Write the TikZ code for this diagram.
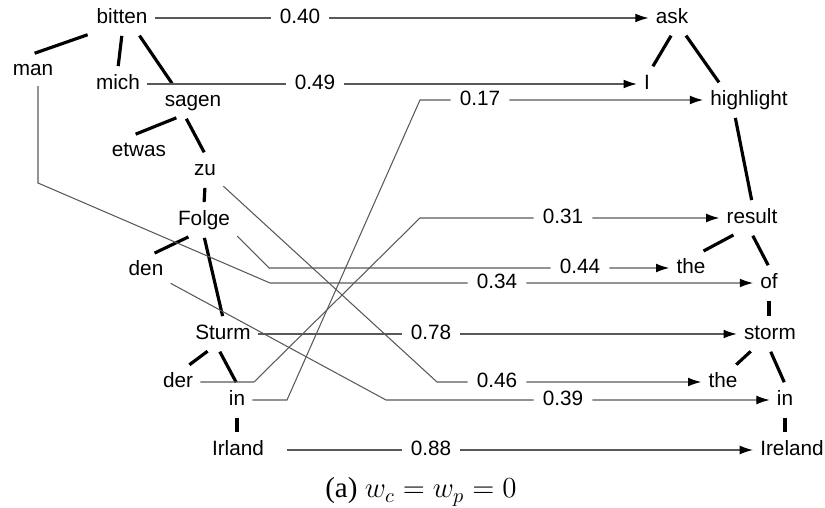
\documentclass[tikz,border=0pt]{standalone}
\usepackage{fix-cm}
\usepackage{fontspec}
\setmainfont{Liberation Serif}
\setsansfont{Liberation Sans}
\usetikzlibrary{arrows.meta}

\begin{document}
\begin{tikzpicture}[
    word/.style={inner sep=4pt, font=\sffamily\fontsize{11.8}{14}\selectfont, text height=8pt, text depth=2pt},
    wt/.style={word, inner sep=5pt},
    tree/.style={line width=1.8pt, shorten <=1pt, shorten >=1pt},
    link/.style={black!65, line width=0.6pt, -{Latex[black, length=7.5pt, width=5pt]}}
]
    \useasboundingbox (0,0) rectangle (16.5,10.16);

    % source tree
    \node[word] (bitten) at (2.44,9.80) {bitten};
    \node[word] (man) at (0.66,8.76) {man};
    \node[word] (mich) at (2.36,8.48) {mich};
    \node[word] (sagen) at (3.86,8.14) {sagen};
    \node[word] (etwas) at (2.78,7.14) {etwas};
    \node[word] (zu) at (4.10,6.76) {zu};
    \node[word] (Folge) at (4.08,5.76) {Folge};
    \node[word] (den) at (2.92,4.76) {den};
    \node[word] (Sturm) at (4.46,3.48) {Sturm};
    \node[word] (der) at (3.56,2.52) {der};
    \node[word] (in1) at (4.74,2.16) {in};
    \node[word] (Irland) at (4.76,1.16) {Irland};

    \draw[tree] (bitten.south west) -- (man.north);
    \draw[tree] (bitten.south) -- (mich.north);
    \draw[tree] ([xshift=0.33cm]bitten.south) -- ([xshift=-0.4cm]sagen.north);
    \draw[tree] ([xshift=-0.3cm]sagen.south) -- ([xshift=-0.1cm]etwas.north);
    \draw[tree] ([xshift=-0.15cm]sagen.south) -- (zu.north);
    \draw[tree] (zu.south) -- (Folge.north);
    \draw[tree] ([xshift=-0.28cm]Folge.south) -- ([xshift=0.14cm]den.north);
    \draw[tree] (Folge.south) -- (Sturm.north);
    \draw[tree] ([xshift=-0.28cm]Sturm.south) -- ([xshift=0.2cm]der.north);
    \draw[tree] ([xshift=-0.08cm]Sturm.south) -- (in1.north);
    \draw[tree] (in1.south) -- (Irland.north -| in1.south);

    % target tree
    \node[word] (ask) at (13.44,9.80) {ask};
    \node[word] (I) at (12.94,8.48) {I};
    \node[word] (highlight) at (14.98,8.16) {highlight};
    \node[word] (result) at (15.04,5.80) {result};
    \node[word] (the1) at (13.82,4.80) {the};
    \node[word] (of) at (15.38,4.50) {of};
    \node[word] (storm) at (15.40,3.48) {storm};
    \node[word] (the2) at (14.46,2.52) {the};
    \node[word] (in2) at (15.70,2.16) {in};
    \node[word] (Ireland) at (15.84,1.16) {Ireland};

    \draw[tree] (ask.south) -- ([xshift=0.1cm]I.north);
    \draw[tree] ([xshift=0.26cm]ask.south) -- ([xshift=-0.58cm]highlight.north);
    \draw[tree] ([xshift=-0.28cm]highlight.south) -- (result.north);
    \draw[tree] ([xshift=-0.34cm]result.south) -- ([xshift=0.22cm]the1.north);
    \draw[tree] (result.south) -- (of.north);
    \draw[tree] (of.south) -- (storm.north -| of.south);
    \draw[tree] ([xshift=-0.36cm]storm.south) -- ([xshift=0.24cm]the2.north);
    \draw[tree] (storm.south) -- (in2.north);
    \draw[tree] (in2.south) -- (Ireland.north -| in2.south);

    % alignment weights
    \node[wt] (w1) at (6.00,9.80) {0.40};
    \node[wt] (w2) at (6.30,8.48) {0.49};
    \node[wt] (w3) at (9.60,8.16) {0.17};
    \node[wt] (w4) at (11.26,5.80) {0.31};
    \node[wt] (w5) at (11.60,4.80) {0.44};
    \node[wt] (w6) at (9.94,4.50) {0.34};
    \node[wt] (w7) at (8.62,3.48) {0.78};
    \node[wt] (w8) at (9.94,2.52) {0.46};
    \node[wt] (w9) at (11.26,2.16) {0.39};
    \node[wt] (w10) at (8.62,1.16) {0.88};

    \draw[link] (bitten) -- (w1) -- (ask);
    \draw[link] (mich) -- (w2) -- (I);
    \draw[link] (in1) -- (5.74,2.16) -- (8.40,8.16) -- (w3) -- (highlight);
    \draw[link] (der) -- (5.08,2.52) -- (8.40,5.80) -- (w4) -- (result);
    \draw[link] (Folge.south east) -- (5.38,4.80) -- (w5) -- (the1);
    \draw[link] ([xshift=0.1cm]man.south) -- (0.76,6.50) -- (5.40,4.50) -- (w6) -- (of);
    \draw[link] (Sturm) -- (w7) -- (storm);
    \draw[link] (zu.south east) -- (8.74,2.52) -- (w8) -- (the2);
    \draw[link] (den) -- (7.72,2.16) -- (w9) -- (in2);
    \draw[link] ([xshift=0.32cm]Irland.east) -- (w10) -- (Ireland);

    \node[font=\fontsize{16.5}{19}\selectfont] (caption) at (8.42,0.32) {(a) $w_c = w_p = 0$};
\end{tikzpicture}
\end{document}
